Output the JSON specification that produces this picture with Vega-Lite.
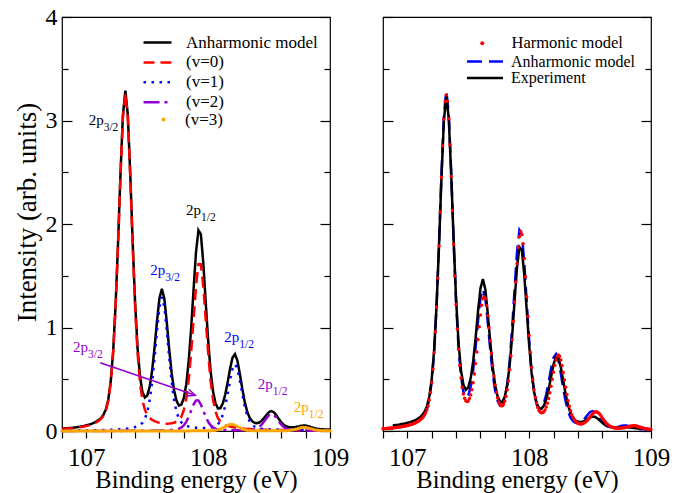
{
"$schema":"https://vega.github.io/schema/vega-lite/v6.json",
"autosize":{"type":"pad"},
"padding":{"left":12,"top":4,"right":0,"bottom":0},
"background":"white",
"bounds":"flush",
"spacing":53,
"config":{"font":"Liberation Serif","view":{"stroke":"black","strokeWidth":1.2},
"axis":{"grid":false,"domain":false,"tickColor":"black","tickWidth":1.2,"labelColor":"black","titleColor":"black","labelFont":"Liberation Serif","titleFont":"Liberation Serif","titleFontWeight":"normal"},
"legend":{"labelFont":"Liberation Serif","labelFontSize":17,"labelColor":"black"}},
"datasets":{
"curves":[
{"x":106.8,"A":0.023,"v0":0.02,"v1":0.003,"v2":0.0005,"v3":0.0001,"H":0.022},
{"x":106.82,"A":0.025,"v0":0.021,"v1":0.0035,"v2":0.0005,"v3":0.0001,"H":0.024},
{"x":106.84,"A":0.027,"v0":0.023,"v1":0.0037,"v2":0.0005,"v3":0.0001,"H":0.026},
{"x":106.86,"A":0.028,"v0":0.024,"v1":0.004,"v2":0.0005,"v3":0.0001,"H":0.027},
{"x":106.88,"A":0.03,"v0":0.026,"v1":0.004,"v2":0.0005,"v3":0.0001,"H":0.029,"E":0.054},
{"x":106.9,"A":0.034,"v0":0.029,"v1":0.004,"v2":0.0005,"v3":0.0001,"H":0.033,"E":0.057},
{"x":106.92,"A":0.036,"v0":0.031,"v1":0.0045,"v2":0.0006,"v3":0.0001,"H":0.035,"E":0.059},
{"x":106.94,"A":0.04,"v0":0.035,"v1":0.005,"v2":0.0006,"v3":0.0001,"H":0.039,"E":0.064},
{"x":106.96,"A":0.044,"v0":0.039,"v1":0.005,"v2":0.0006,"v3":0.0001,"H":0.043,"E":0.068},
{"x":106.98,"A":0.049,"v0":0.043,"v1":0.005,"v2":0.0006,"v3":0.0001,"H":0.048,"E":0.072},
{"x":107.0,"A":0.055,"v0":0.048,"v1":0.006,"v2":0.0006,"v3":0.0001,"H":0.054,"E":0.079},
{"x":107.02,"A":0.061,"v0":0.054,"v1":0.006,"v2":0.0007,"v3":0.0001,"H":0.06,"E":0.084},
{"x":107.04,"A":0.068,"v0":0.061,"v1":0.006,"v2":0.0007,"v3":0.0001,"H":0.067,"E":0.093},
{"x":107.06,"A":0.078,"v0":0.07,"v1":0.0065,"v2":0.0007,"v3":0.0001,"H":0.077,"E":0.102},
{"x":107.08,"A":0.09,"v0":0.082,"v1":0.007,"v2":0.0008,"v3":0.0001,"H":0.089,"E":0.114},
{"x":107.1,"A":0.105,"v0":0.096,"v1":0.0078,"v2":0.0008,"v3":0.0001,"H":0.104,"E":0.13},
{"x":107.12,"A":0.125,"v0":0.116,"v1":0.008,"v2":0.0009,"v3":0.0001,"H":0.124,"E":0.152},
{"x":107.14,"A":0.156,"v0":0.146,"v1":0.009,"v2":0.0009,"v3":0.0001,"H":0.154,"E":0.183},
{"x":107.16,"A":0.208,"v0":0.198,"v1":0.009,"v2":0.001,"v3":0.0001,"H":0.206,"E":0.236},
{"x":107.18,"A":0.304,"v0":0.292,"v1":0.011,"v2":0.001,"v3":0.0001,"H":0.3,"E":0.331},
{"x":107.2,"A":0.478,"v0":0.465,"v1":0.012,"v2":0.001,"v3":0.0001,"H":0.47,"E":0.5},
{"x":107.22,"A":0.769,"v0":0.755,"v1":0.013,"v2":0.001,"v3":0.0001,"H":0.757,"E":0.785},
{"x":107.24,"A":1.216,"v0":1.201,"v1":0.014,"v2":0.0011,"v3":0.0001,"H":1.199,"E":1.219},
{"x":107.26,"A":1.812,"v0":1.796,"v1":0.015,"v2":0.0012,"v3":0.0001,"H":1.787,"E":1.799},
{"x":107.28,"A":2.482,"v0":2.464,"v1":0.017,"v2":0.0012,"v3":0.0001,"H":2.449,"E":2.449},
{"x":107.3,"A":3.051,"v0":3.031,"v1":0.019,"v2":0.0013,"v3":0.0001,"H":3.011,"E":3.003},
{"x":107.32,"A":3.289,"v0":3.267,"v1":0.021,"v2":0.0013,"v3":0.0001,"H":3.246,"E":3.237},
{"x":107.34,"A":3.058,"v0":3.032,"v1":0.024,"v2":0.0014,"v3":0.0001,"H":3.016,"E":3.017},
{"x":107.36,"A":2.495,"v0":2.465,"v1":0.028,"v2":0.0015,"v3":0.0001,"H":2.46,"E":2.475},
{"x":107.38,"A":1.832,"v0":1.798,"v1":0.032,"v2":0.0016,"v3":0.0002,"H":1.804,"E":1.838},
{"x":107.4,"A":1.244,"v0":1.204,"v1":0.038,"v2":0.0017,"v3":0.0002,"H":1.223,"E":1.272},
{"x":107.42,"A":0.806,"v0":0.759,"v1":0.045,"v2":0.0018,"v3":0.0002,"H":0.79,"E":0.853},
{"x":107.44,"A":0.53,"v0":0.47,"v1":0.058,"v2":0.002,"v3":0.0002,"H":0.512,"E":0.589},
{"x":107.46,"A":0.378,"v0":0.297,"v1":0.079,"v2":0.002,"v3":0.0002,"H":0.358,"E":0.447},
{"x":107.48,"A":0.324,"v0":0.206,"v1":0.116,"v2":0.0023,"v3":0.0002,"H":0.293,"E":0.398},
{"x":107.5,"A":0.342,"v0":0.155,"v1":0.184,"v2":0.0028,"v3":0.0002,"H":0.29,"E":0.422},
{"x":107.52,"A":0.428,"v0":0.126,"v1":0.299,"v2":0.003,"v3":0.0002,"H":0.347,"E":0.511},
{"x":107.54,"A":0.585,"v0":0.107,"v1":0.475,"v2":0.0033,"v3":0.0003,"H":0.466,"E":0.67},
{"x":107.56,"A":0.809,"v0":0.095,"v1":0.71,"v2":0.0037,"v3":0.0003,"H":0.651,"E":0.897},
{"x":107.58,"A":1.064,"v0":0.086,"v1":0.974,"v2":0.0041,"v3":0.0003,"H":0.883,"E":1.156},
{"x":107.6,"A":1.284,"v0":0.079,"v1":1.2,"v2":0.0046,"v3":0.0003,"H":1.12,"E":1.377},
{"x":107.62,"A":1.373,"v0":0.075,"v1":1.293,"v2":0.0052,"v3":0.0004,"H":1.277,"E":1.468},
{"x":107.64,"A":1.279,"v0":0.072,"v1":1.201,"v2":0.006,"v3":0.0004,"H":1.275,"E":1.369},
{"x":107.66,"A":1.053,"v0":0.071,"v1":0.975,"v2":0.0069,"v3":0.0004,"H":1.114,"E":1.135},
{"x":107.68,"A":0.791,"v0":0.072,"v1":0.711,"v2":0.008,"v3":0.0005,"H":0.873,"E":0.864},
{"x":107.7,"A":0.561,"v0":0.074,"v1":0.477,"v2":0.0095,"v3":0.0005,"H":0.636,"E":0.624},
{"x":107.72,"A":0.394,"v0":0.08,"v1":0.301,"v2":0.012,"v3":0.0006,"H":0.445,"E":0.447},
{"x":107.74,"A":0.292,"v0":0.09,"v1":0.186,"v2":0.0157,"v3":0.0006,"H":0.319,"E":0.337},
{"x":107.76,"A":0.246,"v0":0.106,"v1":0.118,"v2":0.022,"v3":0.0007,"H":0.255,"E":0.285},
{"x":107.78,"A":0.255,"v0":0.139,"v1":0.082,"v2":0.034,"v3":0.0008,"H":0.243,"E":0.281},
{"x":107.8,"A":0.319,"v0":0.202,"v1":0.061,"v2":0.055,"v3":0.001,"H":0.288,"E":0.333},
{"x":107.82,"A":0.45,"v0":0.312,"v1":0.049,"v2":0.088,"v3":0.001,"H":0.398,"E":0.444},
{"x":107.84,"A":0.675,"v0":0.494,"v1":0.043,"v2":0.137,"v3":0.001,"H":0.593,"E":0.639},
{"x":107.86,"A":0.989,"v0":0.754,"v1":0.038,"v2":0.196,"v3":0.0012,"H":0.883,"E":0.916},
{"x":107.88,"A":1.367,"v0":1.076,"v1":0.034,"v2":0.256,"v3":0.0014,"H":1.247,"E":1.253},
{"x":107.9,"A":1.726,"v0":1.398,"v1":0.031,"v2":0.295,"v3":0.0015,"H":1.619,"E":1.578},
{"x":107.92,"A":1.94,"v0":1.612,"v1":0.03,"v2":0.295,"v3":0.0017,"H":1.878,"E":1.777},
{"x":107.94,"A":1.9,"v0":1.611,"v1":0.029,"v2":0.256,"v3":0.002,"H":1.901,"E":1.748},
{"x":107.96,"A":1.623,"v0":1.396,"v1":0.029,"v2":0.196,"v3":0.002,"H":1.666,"E":1.505},
{"x":107.98,"A":1.24,"v0":1.072,"v1":0.029,"v2":0.137,"v3":0.002,"H":1.3,"E":1.163},
{"x":108.0,"A":0.872,"v0":0.749,"v1":0.031,"v2":0.089,"v3":0.0025,"H":0.923,"E":0.828},
{"x":108.02,"A":0.578,"v0":0.486,"v1":0.034,"v2":0.055,"v3":0.0033,"H":0.614,"E":0.561},
{"x":108.04,"A":0.381,"v0":0.302,"v1":0.039,"v2":0.035,"v3":0.0046,"H":0.398,"E":0.379},
{"x":108.06,"A":0.268,"v0":0.19,"v1":0.048,"v2":0.023,"v3":0.0072,"H":0.268,"E":0.272},
{"x":108.08,"A":0.218,"v0":0.125,"v1":0.065,"v2":0.016,"v3":0.012,"H":0.198,"E":0.221},
{"x":108.1,"A":0.22,"v0":0.09,"v1":0.098,"v2":0.013,"v3":0.019,"H":0.176,"E":0.215},
{"x":108.12,"A":0.266,"v0":0.071,"v1":0.155,"v2":0.011,"v3":0.029,"H":0.186,"E":0.243},
{"x":108.14,"A":0.353,"v0":0.058,"v1":0.243,"v2":0.01,"v3":0.042,"H":0.232,"E":0.305},
{"x":108.16,"A":0.471,"v0":0.049,"v1":0.358,"v2":0.0085,"v3":0.055,"H":0.315,"E":0.403},
{"x":108.18,"A":0.604,"v0":0.043,"v1":0.489,"v2":0.008,"v3":0.064,"H":0.432,"E":0.525},
{"x":108.2,"A":0.71,"v0":0.038,"v1":0.601,"v2":0.0073,"v3":0.064,"H":0.568,"E":0.644},
{"x":108.22,"A":0.742,"v0":0.033,"v1":0.646,"v2":0.007,"v3":0.056,"H":0.686,"E":0.718},
{"x":108.24,"A":0.68,"v0":0.03,"v1":0.6,"v2":0.007,"v3":0.043,"H":0.735,"E":0.707},
{"x":108.26,"A":0.552,"v0":0.027,"v1":0.488,"v2":0.0067,"v3":0.03,"H":0.687,"E":0.615},
{"x":108.28,"A":0.408,"v0":0.025,"v1":0.357,"v2":0.0065,"v3":0.02,"H":0.566,"E":0.482},
{"x":108.3,"A":0.282,"v0":0.022,"v1":0.24,"v2":0.0067,"v3":0.013,"H":0.422,"E":0.351},
{"x":108.32,"A":0.188,"v0":0.02,"v1":0.152,"v2":0.0083,"v3":0.008,"H":0.292,"E":0.245},
{"x":108.34,"A":0.129,"v0":0.019,"v1":0.095,"v2":0.0096,"v3":0.005,"H":0.195,"E":0.172},
{"x":108.36,"A":0.095,"v0":0.018,"v1":0.061,"v2":0.012,"v3":0.0036,"H":0.13,"E":0.127},
{"x":108.38,"A":0.08,"v0":0.017,"v1":0.043,"v2":0.017,"v3":0.003,"H":0.094,"E":0.102},
{"x":108.4,"A":0.075,"v0":0.015,"v1":0.032,"v2":0.025,"v3":0.0023,"H":0.074,"E":0.09},
{"x":108.42,"A":0.082,"v0":0.014,"v1":0.026,"v2":0.04,"v3":0.002,"H":0.068,"E":0.087},
{"x":108.44,"A":0.1,"v0":0.013,"v1":0.022,"v2":0.063,"v3":0.002,"H":0.073,"E":0.091},
{"x":108.46,"A":0.127,"v0":0.013,"v1":0.019,"v2":0.093,"v3":0.002,"H":0.085,"E":0.101},
{"x":108.48,"A":0.157,"v0":0.012,"v1":0.017,"v2":0.126,"v3":0.0017,"H":0.107,"E":0.116},
{"x":108.5,"A":0.184,"v0":0.012,"v1":0.015,"v2":0.155,"v3":0.0017,"H":0.136,"E":0.131},
{"x":108.52,"A":0.193,"v0":0.011,"v1":0.0135,"v2":0.167,"v3":0.0017,"H":0.165,"E":0.139},
{"x":108.54,"A":0.18,"v0":0.011,"v1":0.012,"v2":0.155,"v3":0.0018,"H":0.184,"E":0.137},
{"x":108.56,"A":0.151,"v0":0.011,"v1":0.012,"v2":0.126,"v3":0.0018,"H":0.182,"E":0.122},
{"x":108.58,"A":0.115,"v0":0.01,"v1":0.011,"v2":0.092,"v3":0.002,"H":0.161,"E":0.101},
{"x":108.6,"A":0.084,"v0":0.01,"v1":0.01,"v2":0.062,"v3":0.002,"H":0.126,"E":0.08},
{"x":108.62,"A":0.061,"v0":0.0096,"v1":0.0098,"v2":0.039,"v3":0.0022,"H":0.094,"E":0.064},
{"x":108.64,"A":0.045,"v0":0.009,"v1":0.0093,"v2":0.024,"v3":0.0023,"H":0.067,"E":0.051},
{"x":108.66,"A":0.038,"v0":0.009,"v1":0.0088,"v2":0.016,"v3":0.0046,"H":0.049,"E":0.043},
{"x":108.68,"A":0.035,"v0":0.0086,"v1":0.0083,"v2":0.011,"v3":0.007,"H":0.037,"E":0.038},
{"x":108.7,"A":0.036,"v0":0.0083,"v1":0.0079,"v2":0.0084,"v3":0.011,"H":0.03,"E":0.035},
{"x":108.72,"A":0.039,"v0":0.008,"v1":0.0075,"v2":0.0068,"v3":0.016,"H":0.027,"E":0.034},
{"x":108.74,"A":0.044,"v0":0.0077,"v1":0.0071,"v2":0.0058,"v3":0.0235,"H":0.026,"E":0.034},
{"x":108.76,"A":0.05,"v0":0.0075,"v1":0.0068,"v2":0.005,"v3":0.0305,"H":0.028,"E":0.035},
{"x":108.78,"A":0.053,"v0":0.0072,"v1":0.0065,"v2":0.0044,"v3":0.0345,"H":0.031,"E":0.036},
{"x":108.8,"A":0.052,"v0":0.007,"v1":0.0062,"v2":0.004,"v3":0.0345,"H":0.036,"E":0.036},
{"x":108.82,"A":0.047,"v0":0.0068,"v1":0.006,"v2":0.0037,"v3":0.03,"H":0.042,"E":0.034},
{"x":108.84,"A":0.039,"v0":0.0066,"v1":0.0058,"v2":0.0034,"v3":0.023,"H":0.047,"E":0.032},
{"x":108.86,"A":0.031,"v0":0.0064,"v1":0.0056,"v2":0.0031,"v3":0.016,"H":0.05,"E":0.029},
{"x":108.88,"A":0.025,"v0":0.0062,"v1":0.0054,"v2":0.0029,"v3":0.01,"H":0.046,"E":0.026},
{"x":108.9,"A":0.02,"v0":0.006,"v1":0.0052,"v2":0.0027,"v3":0.0063,"H":0.039,"E":0.024},
{"x":108.92,"A":0.018,"v0":0.0058,"v1":0.005,"v2":0.0025,"v3":0.0042,"H":0.032,"E":0.023},
{"x":108.94,"A":0.016,"v0":0.0057,"v1":0.0049,"v2":0.0024,"v3":0.0028,"H":0.026,"E":0.022},
{"x":108.96,"A":0.014,"v0":0.0055,"v1":0.0047,"v2":0.0022,"v3":0.002,"H":0.021},
{"x":108.98,"A":0.014,"v0":0.0054,"v1":0.0046,"v2":0.0021,"v3":0.0015,"H":0.017},
{"x":109.0,"A":0.013,"v0":0.0053,"v1":0.0045,"v2":0.002,"v3":0.0012,"H":0.015}
],
"harmOdd":[
{"x":106.81,"H":0.023},{"x":106.83,"H":0.025},{"x":106.85,"H":0.027},{"x":106.87,"H":0.029},{"x":106.89,"H":0.031},
{"x":106.91,"H":0.034},{"x":106.93,"H":0.038},{"x":106.95,"H":0.041},{"x":106.97,"H":0.045},{"x":106.99,"H":0.05},
{"x":107.01,"H":0.055},{"x":107.03,"H":0.062},{"x":107.05,"H":0.071},{"x":107.07,"H":0.08},{"x":107.09,"H":0.094},
{"x":107.11,"H":0.11},{"x":107.13,"H":0.135},{"x":107.15,"H":0.174},{"x":107.17,"H":0.242},{"x":107.19,"H":0.371},
{"x":107.21,"H":0.596},{"x":107.23,"H":0.958},{"x":107.25,"H":1.477},{"x":107.27,"H":2.116},{"x":107.29,"H":2.757},
{"x":107.31,"H":3.183},{"x":107.33,"H":3.186},{"x":107.35,"H":2.765},{"x":107.37,"H":2.131},{"x":107.39,"H":1.498},
{"x":107.41,"H":0.986},{"x":107.43,"H":0.633},{"x":107.45,"H":0.422},{"x":107.47,"H":0.316},{"x":107.49,"H":0.285},
{"x":107.51,"H":0.313},{"x":107.53,"H":0.399},{"x":107.55,"H":0.551},{"x":107.57,"H":0.763},{"x":107.59,"H":1.007},
{"x":107.61,"H":1.215},{"x":107.63,"H":1.298},{"x":107.65,"H":1.211},{"x":107.67,"H":0.998},{"x":107.69,"H":0.75},
{"x":107.71,"H":0.532},{"x":107.73,"H":0.375},{"x":107.75,"H":0.28},{"x":107.77,"H":0.244},{"x":107.79,"H":0.258},
{"x":107.81,"H":0.334},{"x":107.83,"H":0.484},{"x":107.85,"H":0.728},{"x":107.87,"H":1.058},{"x":107.89,"H":1.44},
{"x":107.91,"H":1.772},{"x":107.93,"H":1.927},{"x":107.95,"H":1.81},{"x":107.97,"H":1.491},{"x":107.99,"H":1.106},
{"x":108.01,"H":0.762},{"x":108.03,"H":0.495},{"x":108.05,"H":0.324},{"x":108.07,"H":0.227},{"x":108.09,"H":0.183},
{"x":108.11,"H":0.178},{"x":108.13,"H":0.204},{"x":108.15,"H":0.268},{"x":108.17,"H":0.369},{"x":108.19,"H":0.5},
{"x":108.21,"H":0.632},{"x":108.23,"H":0.721},{"x":108.25,"H":0.723},{"x":108.27,"H":0.632},{"x":108.29,"H":0.494},
{"x":108.31,"H":0.354},{"x":108.33,"H":0.239},{"x":108.35,"H":0.158},{"x":108.37,"H":0.109},{"x":108.39,"H":0.082},
{"x":108.41,"H":0.07},{"x":108.43,"H":0.068},{"x":108.45,"H":0.077},{"x":108.47,"H":0.095},{"x":108.49,"H":0.121},
{"x":108.51,"H":0.151},{"x":108.53,"H":0.177},{"x":108.55,"H":0.187},{"x":108.57,"H":0.174},{"x":108.59,"H":0.145},
{"x":108.61,"H":0.111},{"x":108.63,"H":0.081},{"x":108.65,"H":0.058},{"x":108.67,"H":0.043},{"x":108.69,"H":0.034},
{"x":108.71,"H":0.03},{"x":108.73,"H":0.028},{"x":108.75,"H":0.028},{"x":108.77,"H":0.031},{"x":108.79,"H":0.036},
{"x":108.81,"H":0.041},{"x":108.83,"H":0.048},{"x":108.85,"H":0.051},{"x":108.87,"H":0.05},{"x":108.89,"H":0.046},
{"x":108.91,"H":0.039},{"x":108.93,"H":0.031},{"x":108.95,"H":0.025},{"x":108.97,"H":0.021},{"x":108.99,"H":0.018}
],
"labels":[
{"x":107.142,"y":2.959,"main":"2p","sub":"3/2","level":"v0"},
{"x":107.941,"y":2.086,"main":"2p","sub":"1/2","level":"v0"},
{"x":107.648,"y":1.506,"main":"2p","sub":"3/2","level":"v1"},
{"x":108.256,"y":0.861,"main":"2p","sub":"1/2","level":"v1"},
{"x":107.013,"y":0.764,"main":"2p","sub":"3/2","level":"v2"},
{"x":108.53,"y":0.409,"main":"2p","sub":"1/2","level":"v2"},
{"x":108.825,"y":0.184,"main":"2p","sub":"1/2","level":"v3"}
],
"arrow":[{"x":107.114,"y":0.66,"x2":107.894,"y2":0.345}]
},
"resolve":{"scale":{"stroke":"independent","strokeDash":"independent","fill":"independent","color":"independent","x":"independent","y":"independent"},"legend":{"stroke":"independent","strokeDash":"independent","fill":"independent"}},
"hconcat":[
{
"width":268,"height":414,
"resolve":{"axis":{"x":"independent","y":"independent"}},
"layer":[
{"data":{"name":"curves"},
"transform":[{"fold":["A","v0","v1","v2"],"as":["series","y"]}],
"mark":{"type":"line","strokeWidth":2.5},
"encoding":{
"x":{"field":"x","type":"quantitative","scale":{"domain":[106.8,109],"nice":false,"zero":false},
"axis":{"orient":"bottom","values":[107,108,109],"format":"d","tickSize":7,"labelFont":"Liberation Serif","labelFontSize":25,"labelPadding":27,"labelBaseline":"alphabetic","labelOverlap":false,"labelFlush":false,"labelBound":false,"title":"Binding energy (eV)","titleFont":"Liberation Serif","titleFontSize":24.5,"titleBaseline":"alphabetic","titleX":134,"titleY":56}},
"y":{"field":"y","type":"quantitative","scale":{"domain":[0,4],"nice":false,"zero":false},
"axis":{"orient":"left","values":[0,1,2,3,4],"offset":-10,"tickSize":10,"labelPadding":5,"labelFontSize":24,"format":"d","title":"Intensity (arb. units)","titleFontSize":27,"titleAngle":270,"titleBaseline":"middle","titleAlign":"center","titleX":-45,"titleY":195}},
"stroke":{"field":"series","type":"nominal","scale":{"domain":["A","v0","v1","v2"],"range":["#000000","#ff0000","#0000ff","#9400d3"]},
"legend":{"orient":"none","legendX":87,"legendY":17,"title":null,"symbolType":"M-2.8,0H2.8","symbolSize":100,"symbolStrokeWidth":2.5,"labelFontSize":17,"labelOffset":20,"rowPadding":1.9,"labelExpr":"datum.label == 'A' ? 'Anharmonic model' : datum.label == 'v0' ? '(v=0)' : datum.label == 'v1' ? '(v=1)' : '(v=2)'"}},
"strokeDash":{"field":"series","type":"nominal","scale":{"domain":["A","v0","v1","v2"],"range":[[1,0],[11,6],[2.5,5.5],[16,5,3,5]]},
"legend":{"orient":"none","legendX":87,"legendY":17,"title":null,"symbolType":"M-2.8,0H2.8","symbolSize":100,"symbolStrokeWidth":2.5,"labelFontSize":17,"labelOffset":20,"rowPadding":1.9,"labelExpr":"datum.label == 'A' ? 'Anharmonic model' : datum.label == 'v0' ? '(v=0)' : datum.label == 'v1' ? '(v=1)' : '(v=2)'"}}
}},
{"data":{"name":"curves"},
"transform":[{"fold":["v3"],"as":["series","y"]}],
"mark":{"type":"point","filled":true,"size":12,"opacity":1},
"encoding":{
"x":{"field":"x","type":"quantitative","axis":{"orient":"bottom","values":[106.8,107.2,107.4,107.6,107.8,108.2,108.4,108.6,108.8],"tickSize":7,"labels":false,"title":null}},
"y":{"field":"y","type":"quantitative","scale":{"domain":[0,4],"nice":false},"axis":{"orient":"right","values":[0,1,2,3,4],"offset":-10,"tickSize":10,"labels":false,"title":null}},
"fill":{"field":"series","type":"nominal","scale":{"domain":["v3"],"range":["#ffa500"]},
"legend":{"orient":"none","legendX":93,"legendY":94,"title":null,"symbolType":"circle","symbolSize":16,"labelFontSize":17,"labelOffset":13,"labelExpr":"'(v=3)'"}}
}},
{"data":{"name":"labels"},
"mark":{"type":"text","align":"right","baseline":"alphabetic","fontSize":15,"font":"Liberation Serif"},
"encoding":{
"x":{"field":"x","type":"quantitative","axis":null},
"y":{"field":"y","type":"quantitative","scale":{"domain":[0,4],"nice":false},"axis":{"orient":"left","values":[0.5,1.5,2.5,3.5],"offset":-6,"tickSize":6,"labels":false,"title":null}},
"text":{"field":"main"},
"color":{"field":"level","type":"nominal","scale":{"domain":["v0","v1","v2","v3"],"range":["#000000","#0000ff","#9400d3","#ffa500"]},"legend":null}
}},
{"data":{"name":"labels"},
"mark":{"type":"text","align":"left","baseline":"alphabetic","fontSize":11.5,"dy":6,"font":"Liberation Serif"},
"encoding":{
"x":{"field":"x","type":"quantitative","axis":null},
"y":{"field":"y","type":"quantitative","scale":{"domain":[0,4],"nice":false},"axis":{"orient":"right","values":[0.5,1.5,2.5,3.5],"offset":-6,"tickSize":6,"labels":false,"title":null}},
"text":{"field":"sub"},
"color":{"field":"level","type":"nominal","scale":{"domain":["v0","v1","v2","v3"],"range":["#000000","#0000ff","#9400d3","#ffa500"]},"legend":null}
}},
{"data":{"name":"arrow"},
"mark":{"type":"rule","color":"#9400d3","strokeWidth":1.5},
"encoding":{"x":{"field":"x","type":"quantitative","axis":null},"y":{"field":"y","type":"quantitative","axis":null},"x2":{"field":"x2"},"y2":{"field":"y2"}}},
{"data":{"name":"arrow"},
"mark":{"type":"point","shape":"M-1,-0.45L0,0L-1,0.45","filled":false,"size":256,"angle":18.9,"color":"#9400d3","strokeWidth":1.5,"opacity":1},
"encoding":{"x":{"field":"x2","type":"quantitative","axis":null},"y":{"field":"y2","type":"quantitative","axis":null}}}
]
},
{
"width":268,"height":414,
"resolve":{"axis":{"x":"independent","y":"independent"}},
"layer":[
{"data":{"name":"curves"},
"transform":[{"fold":["A"],"as":["series","y"]}],
"mark":{"type":"line","strokeWidth":2.5},
"encoding":{
"x":{"field":"x","type":"quantitative","scale":{"domain":[106.8,109],"nice":false,"zero":false},
"axis":{"orient":"bottom","values":[107,108,109],"format":"d","tickSize":7,"labelFont":"Liberation Serif","labelFontSize":25,"labelPadding":27,"labelBaseline":"alphabetic","labelOverlap":false,"labelFlush":false,"labelBound":false,"title":"Binding energy (eV)","titleFont":"Liberation Serif","titleFontSize":24.5,"titleBaseline":"alphabetic","titleX":134,"titleY":56}},
"y":{"field":"y","type":"quantitative","scale":{"domain":[0,4],"nice":false,"zero":false},
"axis":{"orient":"left","values":[0,1,2,3,4],"offset":-10,"tickSize":10,"labels":false,"title":null}},
"stroke":{"field":"series","type":"nominal","scale":{"domain":["A","E"],"range":["#0000ff","#000000"]},
"legend":{"orient":"none","legendX":94,"legendY":36.5,"title":null,"symbolType":"M-3.6,0H3.6","symbolSize":100,"symbolStrokeWidth":2.5,"labelFontSize":16,"labelOffset":18,"rowPadding":0.5,"labelExpr":"datum.label == 'A' ? 'Anharmonic model' : 'Experiment'"}},
"strokeDash":{"field":"series","type":"nominal","scale":{"domain":["A","E"],"range":[[15,7],[1,0]]},
"legend":{"orient":"none","legendX":94,"legendY":36.5,"title":null,"symbolType":"M-3.6,0H3.6","symbolSize":100,"symbolStrokeWidth":2.5,"labelFontSize":16,"labelOffset":18,"rowPadding":0.5,"labelExpr":"datum.label == 'A' ? 'Anharmonic model' : 'Experiment'"}}
}},
{"data":{"name":"curves"},
"transform":[{"fold":["E"],"as":["series","y"]}],
"mark":{"type":"line","strokeWidth":2.5},
"encoding":{
"x":{"field":"x","type":"quantitative","axis":{"orient":"bottom","values":[106.8,107.2,107.4,107.6,107.8,108.2,108.4,108.6,108.8],"tickSize":7,"labels":false,"title":null}},
"y":{"field":"y","type":"quantitative","scale":{"domain":[0,4],"nice":false},"axis":{"orient":"right","values":[0,1,2,3,4],"offset":-10,"tickSize":10,"labels":false,"title":null}},
"stroke":{"field":"series","type":"nominal","scale":{"domain":["A","E"],"range":["#0000ff","#000000"]},
"legend":{"orient":"none","legendX":94,"legendY":36.5,"title":null,"symbolType":"M-3.6,0H3.6","symbolSize":100,"symbolStrokeWidth":2.5,"labelFontSize":16,"labelOffset":18,"rowPadding":0.5,"labelExpr":"datum.label == 'A' ? 'Anharmonic model' : 'Experiment'"}},
"strokeDash":{"field":"series","type":"nominal","scale":{"domain":["A","E"],"range":[[15,7],[1,0]]},
"legend":{"orient":"none","legendX":94,"legendY":36.5,"title":null,"symbolType":"M-3.6,0H3.6","symbolSize":100,"symbolStrokeWidth":2.5,"labelFontSize":16,"labelOffset":18,"rowPadding":0.5,"labelExpr":"datum.label == 'A' ? 'Anharmonic model' : 'Experiment'"}}
}},
{"data":{"name":"curves"},
"transform":[{"fold":["H"],"as":["series","y"]}],
"mark":{"type":"point","filled":true,"size":12,"opacity":1},
"encoding":{
"x":{"field":"x","type":"quantitative","axis":null},
"y":{"field":"y","type":"quantitative","scale":{"domain":[0,4],"nice":false},"axis":{"orient":"left","values":[0.5,1.5,2.5,3.5],"offset":-6,"tickSize":6,"labels":false,"title":null}},
"fill":{"field":"series","type":"nominal","scale":{"domain":["H"],"range":["#ff0000"]},
"legend":{"orient":"none","legendX":91,"legendY":18,"title":null,"symbolType":"circle","symbolSize":16,"labelFontSize":16.5,"labelOffset":21,"labelExpr":"'Harmonic model'"}}
}},
{"data":{"name":"harmOdd"},
"transform":[{"fold":["H"],"as":["series","y"]}],
"mark":{"type":"point","filled":true,"size":12,"opacity":1},
"encoding":{
"x":{"field":"x","type":"quantitative","axis":null},
"y":{"field":"y","type":"quantitative","scale":{"domain":[0,4],"nice":false},"axis":{"orient":"right","values":[0.5,1.5,2.5,3.5],"offset":-6,"tickSize":6,"labels":false,"title":null}},
"fill":{"field":"series","type":"nominal","scale":{"domain":["H"],"range":["#ff0000"]},
"legend":{"orient":"none","legendX":91,"legendY":18,"title":null,"symbolType":"circle","symbolSize":16,"labelFontSize":16.5,"labelOffset":21,"labelExpr":"'Harmonic model'"}}
}}
]
}
]
}
